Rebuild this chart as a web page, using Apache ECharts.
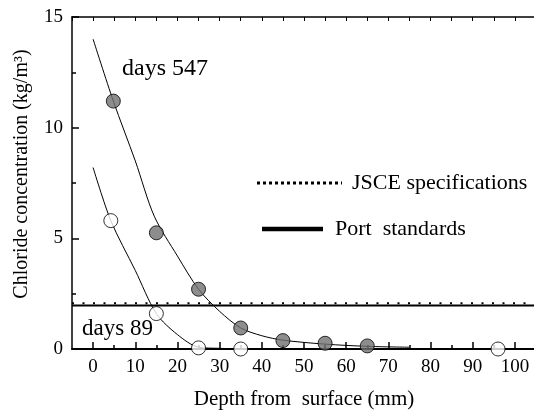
<!DOCTYPE html>
<html><head><meta charset="utf-8">
<script src="https://cdn.jsdelivr.net/npm/echarts@6/dist/echarts.min.js"></script>
<style>html,body{margin:0;padding:0;background:#fff}#c{width:534px;height:410px}</style>
</head><body><div id="c"></div>
<script>
// ---- data ----
const depth547 = [4.8, 15, 25, 35, 45, 55, 65];
const conc547  = [11.2, 5.25, 2.7, 0.95, 0.38, 0.26, 0.14];
const depth89  = [4.2, 15, 25, 35, 96];
const conc89   = [5.8, 1.6, 0.05, 0.0, 0.0];
const fitDepth547 = [0, 4.8, 10, 14.5, 20, 25, 30, 35, 40, 45, 55, 65, 75];
const fitConc547  = [14.0, 11.2, 8.5, 6.0, 4.2, 2.7, 1.7, 0.95, 0.6, 0.4, 0.22, 0.12, 0.08];
const fitDepth89  = [0, 4.2, 10, 15, 20, 25, 30, 35];
const fitConc89   = [8.2, 5.8, 3.55, 1.6, 0.65, 0.08, 0.03, 0.0];
const limitRange  = [-5, 105];
const jsceLevel   = 2.07;
const portLevel   = 1.97;
const xMajorTicks = [0, 10, 20, 30, 40, 50, 60, 70, 80, 90, 100];
const xMinorTicks = [5, 15, 25, 35, 45, 55, 65, 75, 85, 95];
const labels = { d547: 'days 547', d89: 'days 89', jsce: 'JSCE specifications', port: 'Port  standards',
                 xName: 'Depth from  surface (mm)', yName: 'Chloride concentration (kg/m³)' };

const zip = (a, b) => a.map((v, i) => [v, b[i]]);
const FONT = 'Liberation Serif';

const chart = echarts.init(document.getElementById('c'), null, { renderer: 'canvas' });
chart.setOption({
  animation: false,
  backgroundColor: '#fff',
  grid: { left: 72, top: 17, width: 464, height: 332, containLabel: false, outerBoundsMode: 'none' },
  xAxis: [
    {
      type: 'value', position: 'bottom', min: -5, max: 105,
      name: labels.xName, nameLocation: 'middle', nameGap: 40,
      nameTextStyle: { fontFamily: FONT, fontSize: 21, color: '#000' },
      axisLine: { show: true, onZero: false, lineStyle: { color: '#000', width: 2 } },
      axisTick: { show: true, inside: true, length: 7, customValues: xMajorTicks, lineStyle: { color: '#000', width: 1.5 } },
      axisLabel: { customValues: xMajorTicks, fontFamily: FONT, fontSize: 19, color: '#000', margin: 9 },
      splitLine: { show: false }
    },
    {
      type: 'value', position: 'bottom', min: -5, max: 105,
      axisLine: { show: false, onZero: false },
      axisTick: { show: true, inside: true, length: 4, customValues: xMinorTicks, lineStyle: { color: '#000', width: 1.5 } },
      axisLabel: { show: false },
      splitLine: { show: false }
    },
    {
      type: 'value', position: 'top', min: -5, max: 105, interval: 5,
      axisLine: { show: true, onZero: false, lineStyle: { color: '#000', width: 1.5 } },
      axisTick: { show: true, inside: true, length: 4, lineStyle: { color: '#000', width: 1 } },
      axisLabel: { show: false },
      splitLine: { show: false }
    }
  ],
  yAxis: [{
    type: 'value', min: 0, max: 15, interval: 5, position: 'left',
    axisLine: { show: true, onZero: false, lineStyle: { color: '#000', width: 1.5 } },
    axisTick: { show: true, inside: true, length: 7, lineStyle: { color: '#000', width: 1.5 } },
    minorTick: { show: true, splitNumber: 2, length: 4, lineStyle: { color: '#000', width: 1.5 } },
    axisLabel: { fontFamily: FONT, fontSize: 19, color: '#000', margin: 9 },
    splitLine: { show: false }
  }],
  series: [
    { type: 'line', data: zip(limitRange, [jsceLevel, jsceLevel]), symbol: 'none', z: 1,
      lineStyle: { color: '#000', width: 2, type: [2, 8.5] } },
    { type: 'line', data: zip(limitRange, [portLevel, portLevel]), symbol: 'none', z: 1,
      lineStyle: { color: '#000', width: 2 } },
    { type: 'line', data: zip(fitDepth547, fitConc547), symbol: 'none', smooth: 0.3, z: 2,
      lineStyle: { color: '#000', width: 1 } },
    { type: 'line', data: zip(fitDepth89, fitConc89), symbol: 'none', smooth: 0.3, z: 2,
      lineStyle: { color: '#000', width: 1 } },
    { type: 'scatter', data: zip(depth547, conc547), symbol: 'circle', symbolSize: 14, clip: true, z: 3,
      itemStyle: { color: '#707070', borderColor: '#000', borderWidth: 1 } },
    { type: 'scatter', data: zip(depth89, conc89), symbol: 'circle', symbolSize: 14, clip: true, z: 3,
      itemStyle: { color: '#fff', borderColor: '#000', borderWidth: 1 } }
  ],
  graphic: [
    { type: 'text', x: 22, y: 174, rotation: Math.PI / 2,
      style: { text: labels.yName, fontFamily: FONT, fontSize: 20, fill: '#000', align: 'center', verticalAlign: 'middle' } },
    { type: 'text', left: 122, top: 57, style: { text: labels.d547, fontFamily: FONT, fontSize: 24, fill: '#000' } },
    { type: 'text', left: 82, top: 317, style: { text: labels.d89, fontFamily: FONT, fontSize: 23, fill: '#000' } },
    { type: 'line', shape: { x1: 257, y1: 183, x2: 342, y2: 183 }, style: { stroke: '#000', lineWidth: 3, lineDash: [3, 3] } },
    { type: 'text', left: 352, top: 172, style: { text: labels.jsce, fontFamily: FONT, fontSize: 22, fill: '#000' } },
    { type: 'line', shape: { x1: 262, y1: 229, x2: 323, y2: 229 }, style: { stroke: '#000', lineWidth: 4.5 } },
    { type: 'text', left: 335, top: 218, style: { text: labels.port, fontFamily: FONT, fontSize: 22, fill: '#000' } }
  ]
});
</script></body></html>
